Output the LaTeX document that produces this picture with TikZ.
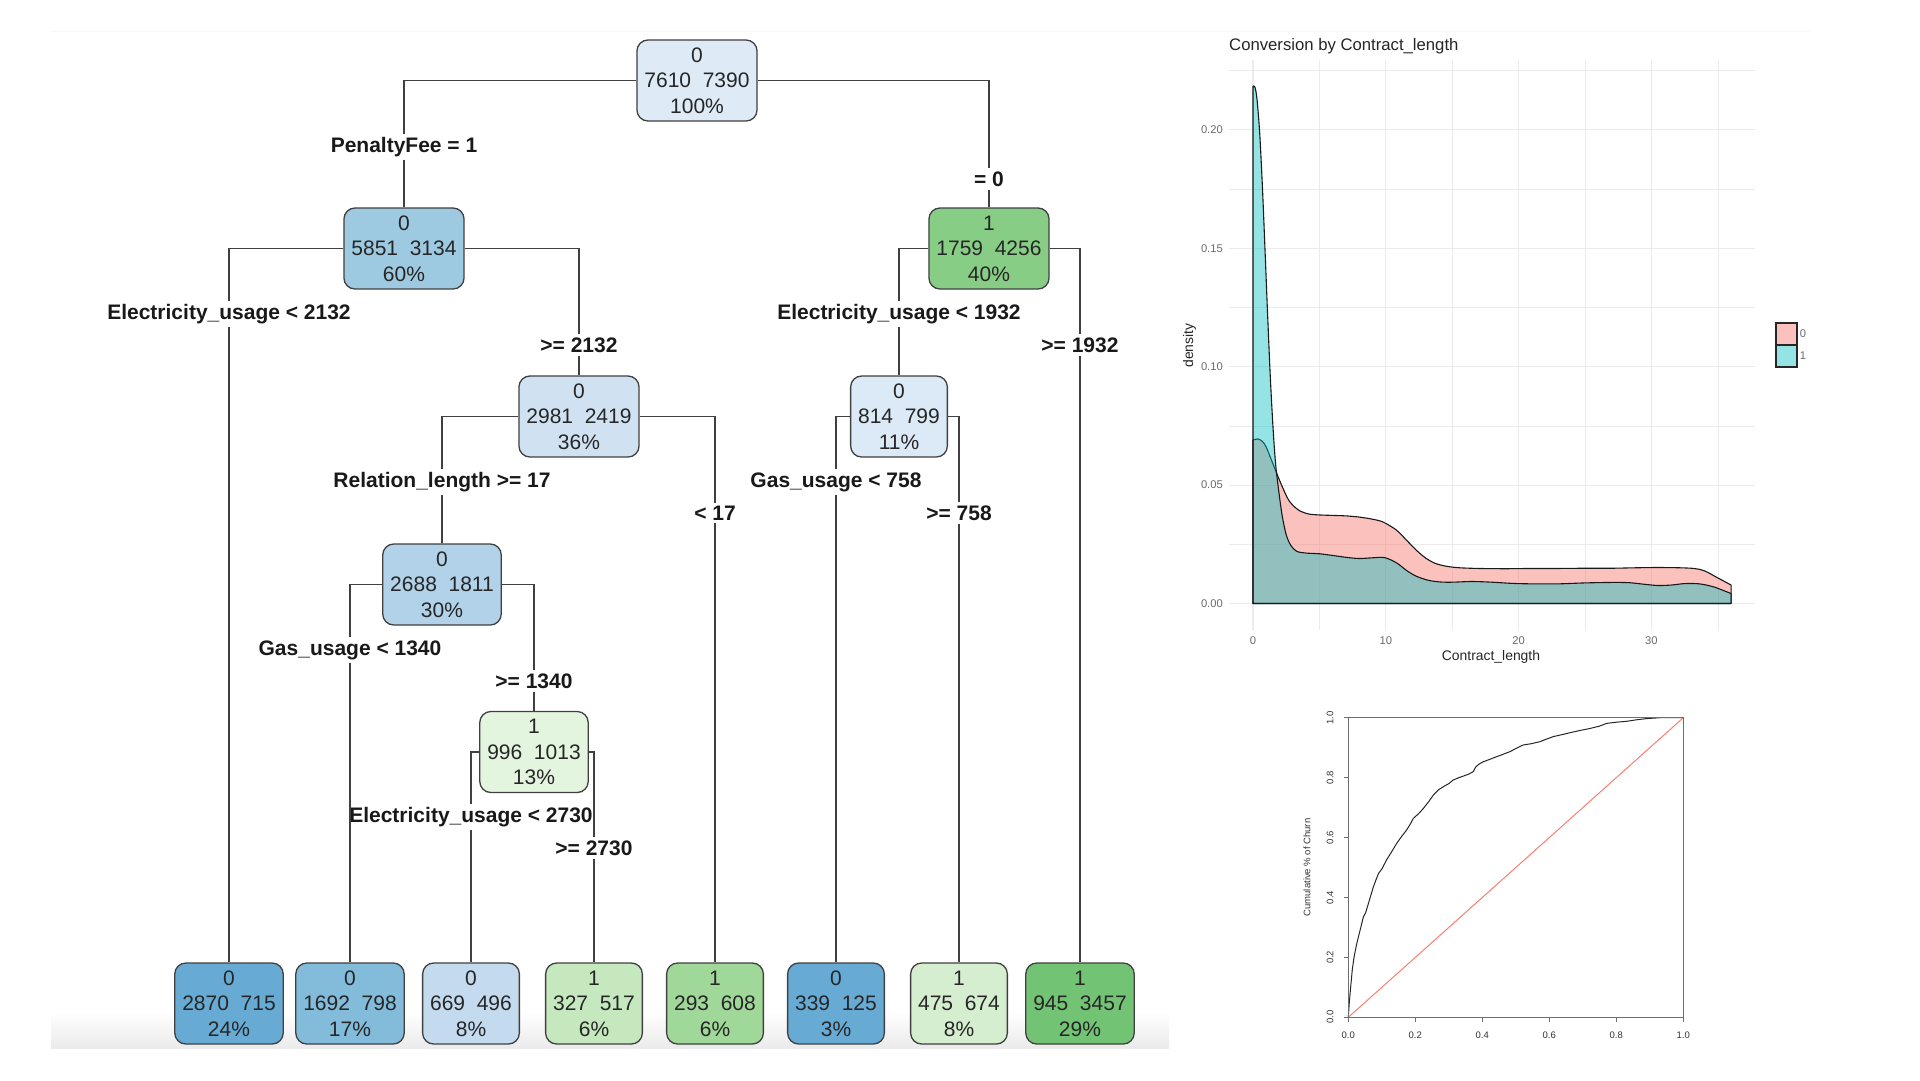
\documentclass[tikz,border=0pt]{standalone}
\usepackage{fontspec}
\setmainfont{Liberation Sans}
\definecolor{edgegray}{HTML}{404040}
\definecolor{blueroot}{HTML}{DEEBF7}
\definecolor{blueL}{HTML}{9ECAE1}
\definecolor{greenR}{HTML}{88CD86}
\definecolor{blueLR}{HTML}{D0E2F2}
\definecolor{blueRL}{HTML}{DCE9F6}
\definecolor{blueLRL}{HTML}{B1D2E8}
\definecolor{greenLRLR}{HTML}{E3F4DF}
\definecolor{leafblueA}{HTML}{67ABD5}
\definecolor{leafblueB}{HTML}{83BBDB}
\definecolor{leafblueC}{HTML}{C4DAEE}
\definecolor{leafgreenA}{HTML}{C6E8BF}
\definecolor{leafgreenB}{HTML}{A0D89A}
\definecolor{leafgreenC}{HTML}{D5EECF}
\definecolor{leafgreenD}{HTML}{73C375}
\definecolor{ggred}{HTML}{F8766D}
\definecolor{ggteal}{HTML}{00BFC4}
\definecolor{gridgray}{HTML}{EBEBEB}
\definecolor{ticktext}{HTML}{6B6B6B}
\definecolor{liftred}{HTML}{FA7F72}
\definecolor{liftaxis}{HTML}{6E6E6E}
\begin{document}
\begin{tikzpicture}[x=1pt, y=-1pt,
    split/.style={rectangle, rounded corners=11pt, draw=edgegray, line width=1.3pt,
      align=center, minimum height=81pt, inner xsep=7.5pt, text=black!85,
      font=\fontsize{21}{25.5}\selectfont},
    rule/.style={font=\bfseries\fontsize{21}{25}\selectfont, inner sep=3pt, text=black!90},
    branch/.style={draw=edgegray, line width=1.3pt},
    gridmajor/.style={draw=gridgray, line width=1.1pt},
    gridminor/.style={draw=gridgray, line width=0.55pt},
    ticklab/.style={font=\fontsize{11.2}{13}\selectfont, text=ticktext, inner sep=0pt},
    axlab/.style={font=\fontsize{13.9}{16}\selectfont, text=black!85, inner sep=0pt},
    liftlab/.style={font=\fontsize{9.5}{11}\selectfont, text=black!80, inner sep=0pt}]
  \useasboundingbox (0,0) rectangle (1920,1080);
  \fill[white] (0,0) rectangle (1920,1080);
  \draw[black!3, line width=1pt] (51,31) -- (1810,31);
  \shade[top color=white, bottom color=black!8] (51,1012) rectangle (1169,1048);

  % decision tree
  \node[split, fill=blueroot] (root) at (697,80.5) {0\\7610\ \ 7390\\100\%};
  \node[split, fill=blueL] (nL) at (404,248.5) {0\\5851\ \ 3134\\60\%};
  \node[split, fill=greenR] (nR) at (989,248.5) {1\\1759\ \ 4256\\40\%};
  \node[split, fill=blueLR] (nLR) at (579,416.5) {0\\2981\ \ 2419\\36\%};
  \node[split, fill=blueRL] (nRL) at (899,416.5) {0\\814\ \ 799\\11\%};
  \node[split, fill=blueLRL] (nLRL) at (442,584.5) {0\\2688\ \ 1811\\30\%};
  \node[split, fill=greenLRLR] (nLRLR) at (534,752) {1\\996\ \ 1013\\13\%};
  \node[split, fill=leafblueA] (leafA) at (229,1003.5) {0\\2870\ \ 715\\24\%};
  \node[split, fill=leafblueB] (leafB) at (350,1003.5) {0\\1692\ \ 798\\17\%};
  \node[split, fill=leafblueC] (leafC) at (471,1003.5) {0\\669\ \ 496\\8\%};
  \node[split, fill=leafgreenA] (leafD) at (594,1003.5) {1\\327\ \ 517\\6\%};
  \node[split, fill=leafgreenB] (leafE) at (715,1003.5) {1\\293\ \ 608\\6\%};
  \node[split, fill=leafblueA] (leafF) at (836,1003.5) {0\\339\ \ 125\\3\%};
  \node[split, fill=leafgreenC] (leafG) at (959,1003.5) {1\\475\ \ 674\\8\%};
  \node[split, fill=leafgreenD] (leafH) at (1080,1003.5) {1\\945\ \ 3457\\29\%};

  \node[rule] (penalty1) at (404,147) {PenaltyFee = 1};
  \node[rule] (penalty0) at (989,179) {= 0};
  \node[rule] (elecA) at (229,314) {Electricity\_usage < 2132};
  \node[rule] (elecAge) at (579,345) {>= 2132};
  \node[rule] (elecB) at (899,314) {Electricity\_usage < 1932};
  \node[rule] (elecBge) at (1080,345) {>= 1932};
  \node[rule] (relation) at (442,482) {Relation\_length >= 17};
  \node[rule] (relationlt) at (715,513) {< 17};
  \node[rule] (gasA) at (836,482) {Gas\_usage < 758};
  \node[rule] (gasAge) at (959,513) {>= 758};
  \node[rule] (gasB) at (350,650) {Gas\_usage < 1340};
  \node[rule] (gasBge) at (534,681) {>= 1340};
  \node[rule] (elecC) at (471,817) {Electricity\_usage < 2730};
  \node[rule] (elecCge) at (594,848) {>= 2730};

  \draw[branch] (root.west) -| (penalty1.north);
  \draw[branch] (penalty1.south) -- (nL.north);
  \draw[branch] (root.east) -| (penalty0.north);
  \draw[branch] (penalty0.south) -- (nR.north);
  \draw[branch] (nL.west) -| (elecA.north);
  \draw[branch] (elecA.south) -- (leafA.north);
  \draw[branch] (nL.east) -| (elecAge.north);
  \draw[branch] (elecAge.south) -- (nLR.north);
  \draw[branch] (nR.west) -| (elecB.north);
  \draw[branch] (elecB.south) -- (nRL.north);
  \draw[branch] (nR.east) -| (elecBge.north);
  \draw[branch] (elecBge.south) -- (leafH.north);
  \draw[branch] (nLR.west) -| (relation.north);
  \draw[branch] (relation.south) -- (nLRL.north);
  \draw[branch] (nLR.east) -| (relationlt.north);
  \draw[branch] (relationlt.south) -- (leafE.north);
  \draw[branch] (nRL.west) -| (gasA.north);
  \draw[branch] (gasA.south) -- (leafF.north);
  \draw[branch] (nRL.east) -| (gasAge.north);
  \draw[branch] (gasAge.south) -- (leafG.north);
  \draw[branch] (nLRL.west) -| (gasB.north);
  \draw[branch] (gasB.south) -- (leafB.north);
  \draw[branch] (nLRL.east) -| (gasBge.north);
  \draw[branch] (gasBge.south) -- (nLRLR.north);
  \draw[branch] (nLRLR.west) -| (elecC.north);
  \draw[branch] (elecC.south) -- (leafC.north);
  \draw[branch] (nLRLR.east) -| (elecCge.north);
  \draw[branch] (elecCge.south) -- (leafD.north);

  % density plot
  \node[anchor=west, inner sep=0pt, font=\fontsize{16.7}{20}\selectfont, text=black!85] (title) at (1229,46) {Conversion by Contract\_length};
  \begin{scope}[shift={(1253,603.5)}, x=13.28pt, y=2368pt]
    \foreach \gx in {5,15,25,35} \draw[gridminor] (\gx,-0.011) -- (\gx,0.2295);
    \foreach \gy in {0.025,0.075,0.125,0.175,0.225} \draw[gridminor] (-1.8,\gy) -- (37.8,\gy);
    \foreach \gx in {0,10,20,30} \draw[gridmajor] (\gx,-0.011) -- (\gx,0.2295);
    \foreach \gy in {0,0.05,0.1,0.15,0.2} \draw[gridmajor] (-1.8,\gy) -- (37.8,\gy);
    \foreach \gy/\lab in {0/0.00,0.05/0.05,0.1/0.10,0.15/0.15,0.2/0.20}
      \node[ticklab, anchor=east] at (-2.26,\gy) {\lab};
    \foreach \gx in {0,10,20,30}
      \node[ticklab] at (\gx,-0.0155) {\gx};
    \filldraw[fill=ggred, fill opacity=0.45, draw=black!90, line width=1.1pt, line join=round]
      (0,0) -- plot[smooth, tension=0.5] coordinates {(0,0.069) (0.35,0.0695) (0.7,0.0685) (1.0,0.066)
      (1.5,0.059) (2.0,0.052) (2.6,0.0445) (3.0,0.0415) (3.5,0.0392) (4.2,0.0378) (5,0.0374)
      (6,0.0372) (7,0.037) (8,0.0365) (9,0.0356) (9.8,0.0344) (10.8,0.031) (11.6,0.0265)
      (12.3,0.0225) (13,0.0192) (13.7,0.017) (14.5,0.0158) (15.5,0.0151) (17,0.0148) (19,0.0147)
      (21,0.0148) (23,0.0148) (25,0.0149) (27,0.0149) (29,0.0151) (30.5,0.0152) (32,0.0151)
      (33.2,0.0148) (34,0.0138) (35,0.0108) (36,0.0078)} -- (36,0) -- cycle;
    \filldraw[fill=ggteal, fill opacity=0.42, draw=black!90, line width=1.1pt, line join=round]
      (0,0) -- plot[smooth, tension=0.5] coordinates {(0,0.2185) (0.15,0.218) (0.3,0.213) (0.5,0.199)
      (0.7,0.177) (0.9,0.15) (1.1,0.122) (1.3,0.096) (1.5,0.075) (1.7,0.059) (1.95,0.047)
      (2.2,0.037) (2.5,0.029) (2.85,0.0245) (3.3,0.022) (4,0.0213) (5,0.021) (6,0.0203) (7,0.0195)
      (8,0.019) (9,0.0193) (9.9,0.0194) (10.8,0.0172) (11.6,0.0138) (12.3,0.0115) (13.2,0.0098)
      (14.1,0.0091) (15,0.009) (16.5,0.0093) (18,0.009) (19.5,0.0085) (21,0.0083) (23,0.0083)
      (25,0.0087) (27,0.0089) (28.3,0.0088) (29.5,0.0081) (30.5,0.0076) (31.5,0.0078)
      (32.5,0.0084) (33.6,0.0083) (34.7,0.007) (36,0.0042)} -- (36,0) -- cycle;
  \end{scope}
  \node[axlab] (xtitle) at (1491,657) {Contract\_length};
  \node[axlab, rotate=90] (ytitle) at (1189.5,345.5) {density};
  \node[draw=black!85, line width=1.2pt, fill=ggred!45, minimum width=21pt, minimum height=22pt, inner sep=0pt] (key0) at (1786.5,334) {};
  \node[draw=black!85, line width=1.2pt, fill=ggteal!42, minimum width=21pt, minimum height=22pt, inner sep=0pt] (key1) at (1786.5,356) {};
  \node[ticklab, anchor=west] (keylab0) at ([xshift=2pt]key0.east) {0};
  \node[ticklab, anchor=west] (keylab1) at ([xshift=2pt]key1.east) {1};

  % lift chart
  \begin{scope}[shift={(1348.3,1017.3)}, x=335pt, y=299.6pt]
    \draw[liftred, line width=1pt] (0,0) -- (1,1);
    \draw[black!85, line width=1pt, line join=round] plot coordinates {(0,0) (0.003,0.05)
      (0.007,0.10) (0.012,0.16) (0.017,0.20) (0.025,0.245) (0.035,0.29) (0.045,0.335) (0.052,0.35)
      (0.06,0.38) (0.068,0.41) (0.075,0.436) (0.083,0.46) (0.09,0.48) (0.1,0.495) (0.114,0.525)
      (0.128,0.55) (0.144,0.58) (0.16,0.605) (0.174,0.625) (0.185,0.645) (0.194,0.664) (0.21,0.68)
      (0.224,0.697) (0.24,0.72) (0.254,0.742) (0.27,0.76) (0.284,0.77) (0.3,0.78) (0.313,0.792)
      (0.33,0.8) (0.343,0.805) (0.36,0.812) (0.373,0.82) (0.38,0.835) (0.39,0.845) (0.403,0.853)
      (0.42,0.86) (0.443,0.87) (0.46,0.877) (0.483,0.887) (0.5,0.897) (0.522,0.909) (0.545,0.913)
      (0.572,0.92) (0.59,0.928) (0.612,0.937) (0.64,0.944) (0.662,0.95) (0.69,0.957) (0.721,0.964)
      (0.75,0.972) (0.771,0.981) (0.8,0.985) (0.831,0.988) (0.86,0.993) (0.89,0.997) (0.93,1.0) (1,1)};
    \draw[liftaxis, line width=1.2pt] (0,0) rectangle (1,1);
    \foreach \v/\lab in {0/0.0,0.2/0.2,0.4/0.4,0.6/0.6,0.8/0.8,1/1.0} {
      \draw[liftaxis, line width=1pt] (\v,0) -- (\v,-0.014);
      \draw[liftaxis, line width=1pt] (0,\v) -- (-0.012,\v);
      \node[liftlab] at (\v,-0.059) {\lab};
      \node[liftlab, rotate=90] at (-0.0546,\v) {\lab};
    }
    \node[liftlab, rotate=90] (lifty) at (-0.1233,0.5) {Cumulative \% of Churn};
  \end{scope}
\end{tikzpicture}
\end{document}
